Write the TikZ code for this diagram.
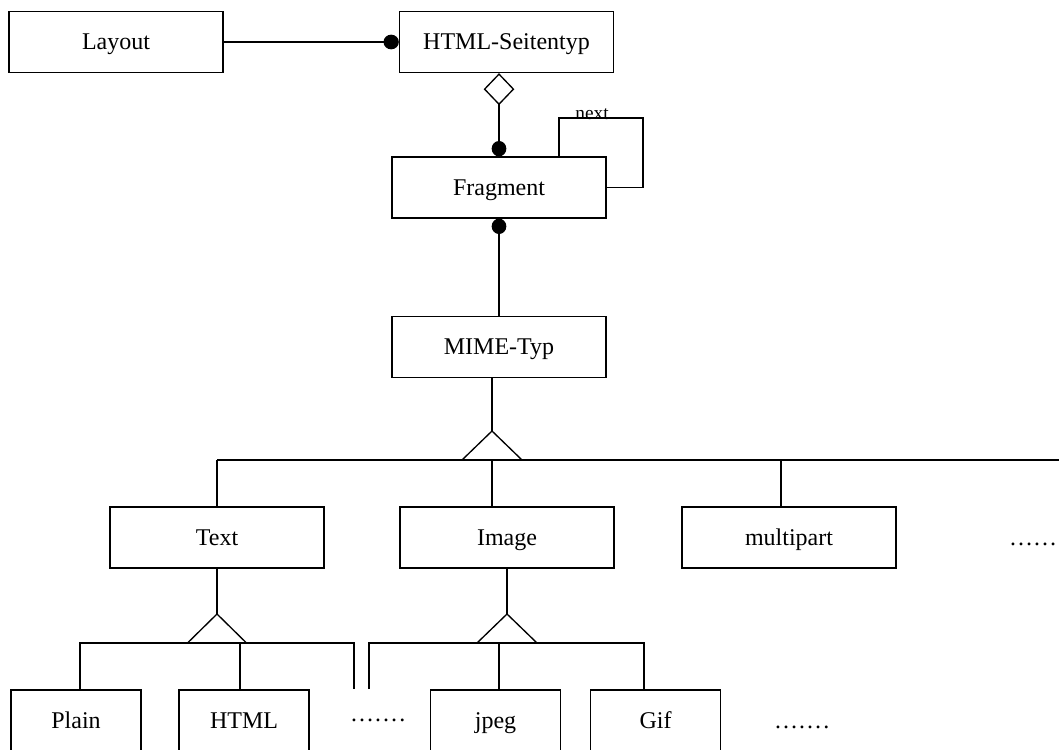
\documentclass[tikz,border=0pt]{standalone}
\usepackage{fontspec}
\setmainfont{Liberation Serif}
\usetikzlibrary{arrows.meta,calc}
\begin{document}
\begin{tikzpicture}[x=0.75pt,y=-0.75pt,line width=1pt,
  mainfont/.style={font=\fontsize{18}{20}\selectfont},
  classbox/.style={draw, rectangle, mainfont, minimum width=160.5pt,
    minimum height=45.75pt, inner sep=0pt, text height=11.9pt, text depth=0pt},
  leafbox/.style={classbox, minimum width=97.5pt},
  ball/.tip={Circle[length=11.5pt,width=11pt]},
  aggr/.tip={Diamond[open,length=24pt,width=23pt]},
  dotsline/.style={mainfont, anchor=base, inner sep=0pt}]
\useasboundingbox (0,0) rectangle (1059,749);

% classes
\node[classbox] (layout) at (116,42) {Layout};
\node[classbox] (seite) at (506.5,42) {HTML-Seitentyp};
\node[classbox] (frag) at (499,187.5) {Fragment};
\node[classbox] (mime) at (499,347) {MIME-Typ};
\node[classbox] (text) at (217,537.5) {Text};
\node[classbox] (image) at (507,537.5) {Image};
\node[classbox] (multi) at (789,537.5) {multipart};
\node[leafbox] (plain) at (76,720.5) {Plain};
\node[leafbox] (htmlleaf) at (244,720.5) {HTML};
\node[leafbox] (jpeg) at (495.5,720.5) {jpeg};
\node[leafbox] (gif) at (655.5,720.5) {Gif};

% continuation marks
\node[dotsline] (moreA) at (374,721) {……};
\node[dotsline] (moreA2) at (moreA.base east) [anchor=base west] {.};
\node[dotsline] (moreB) at (798,728) {……};
\node[dotsline] (moreB2) at (moreB.base east) [anchor=base west] {.};
\node[dotsline] (moreC) at (1033,545) {……};

% associations
\draw[-ball] (layout.east) -- (seite.west);
\draw[aggr-ball] (seite.south -| frag.north) -- (frag.north);
\draw[ball-] (frag.south) -- (mime.north);

% self association "next"
\coordinate (nextA) at (559,118);
\coordinate (nextB) at (643,118);
\draw (frag.north -| nextA) -- (nextA) -- (nextB) |- (frag.east);
\node[font=\fontsize{14.5}{16}\selectfont, anchor=base, inner sep=0pt] (nextlbl) at (592,119) {next};

% generalisation of MIME-Typ
\coordinate (apexM) at (492,431);
\coordinate (busML) at (217,460);
\coordinate (busMR) at (1059,460);
\coordinate (tapMulti) at (781,460);
\draw (mime.south -| apexM) -- (apexM);
\draw ($(apexM)+(-30,29)$) -- (apexM) -- ($(apexM)+(30,29)$);
\draw (busML) -- (busMR);
\draw (busML) -- (text.north);
\draw (apexM |- busML) -- (image.north -| apexM);
\draw (tapMulti) -- (tapMulti |- multi.north);

% generalisation of Text
\coordinate (apexT) at (217,614);
\coordinate (busTL) at (80,643);
\coordinate (busTR) at (354,643);
\coordinate (endT) at (354,689);
\coordinate (tapHtml) at (240,643);
\draw (text.south) -- (apexT);
\draw ($(apexT)+(-29.5,29)$) -- (apexT) -- ($(apexT)+(29.5,29)$);
\draw (busTL |- plain.north) -- (busTL) -- (busTR) -- (endT);
\draw (tapHtml) -- (tapHtml |- htmlleaf.north);

% generalisation of Image
\coordinate (apexI) at (507,614);
\coordinate (busIL) at (369,643);
\coordinate (busIR) at (644,643);
\coordinate (endI) at (369,689);
\coordinate (tapJpeg) at (499,643);
\draw (image.south) -- (apexI);
\draw ($(apexI)+(-30,29)$) -- (apexI) -- ($(apexI)+(30,29)$);
\draw (endI) -- (busIL) -- (busIR) -- (busIR |- gif.north);
\draw (tapJpeg) -- (tapJpeg |- jpeg.north);
\end{tikzpicture}
\end{document}
